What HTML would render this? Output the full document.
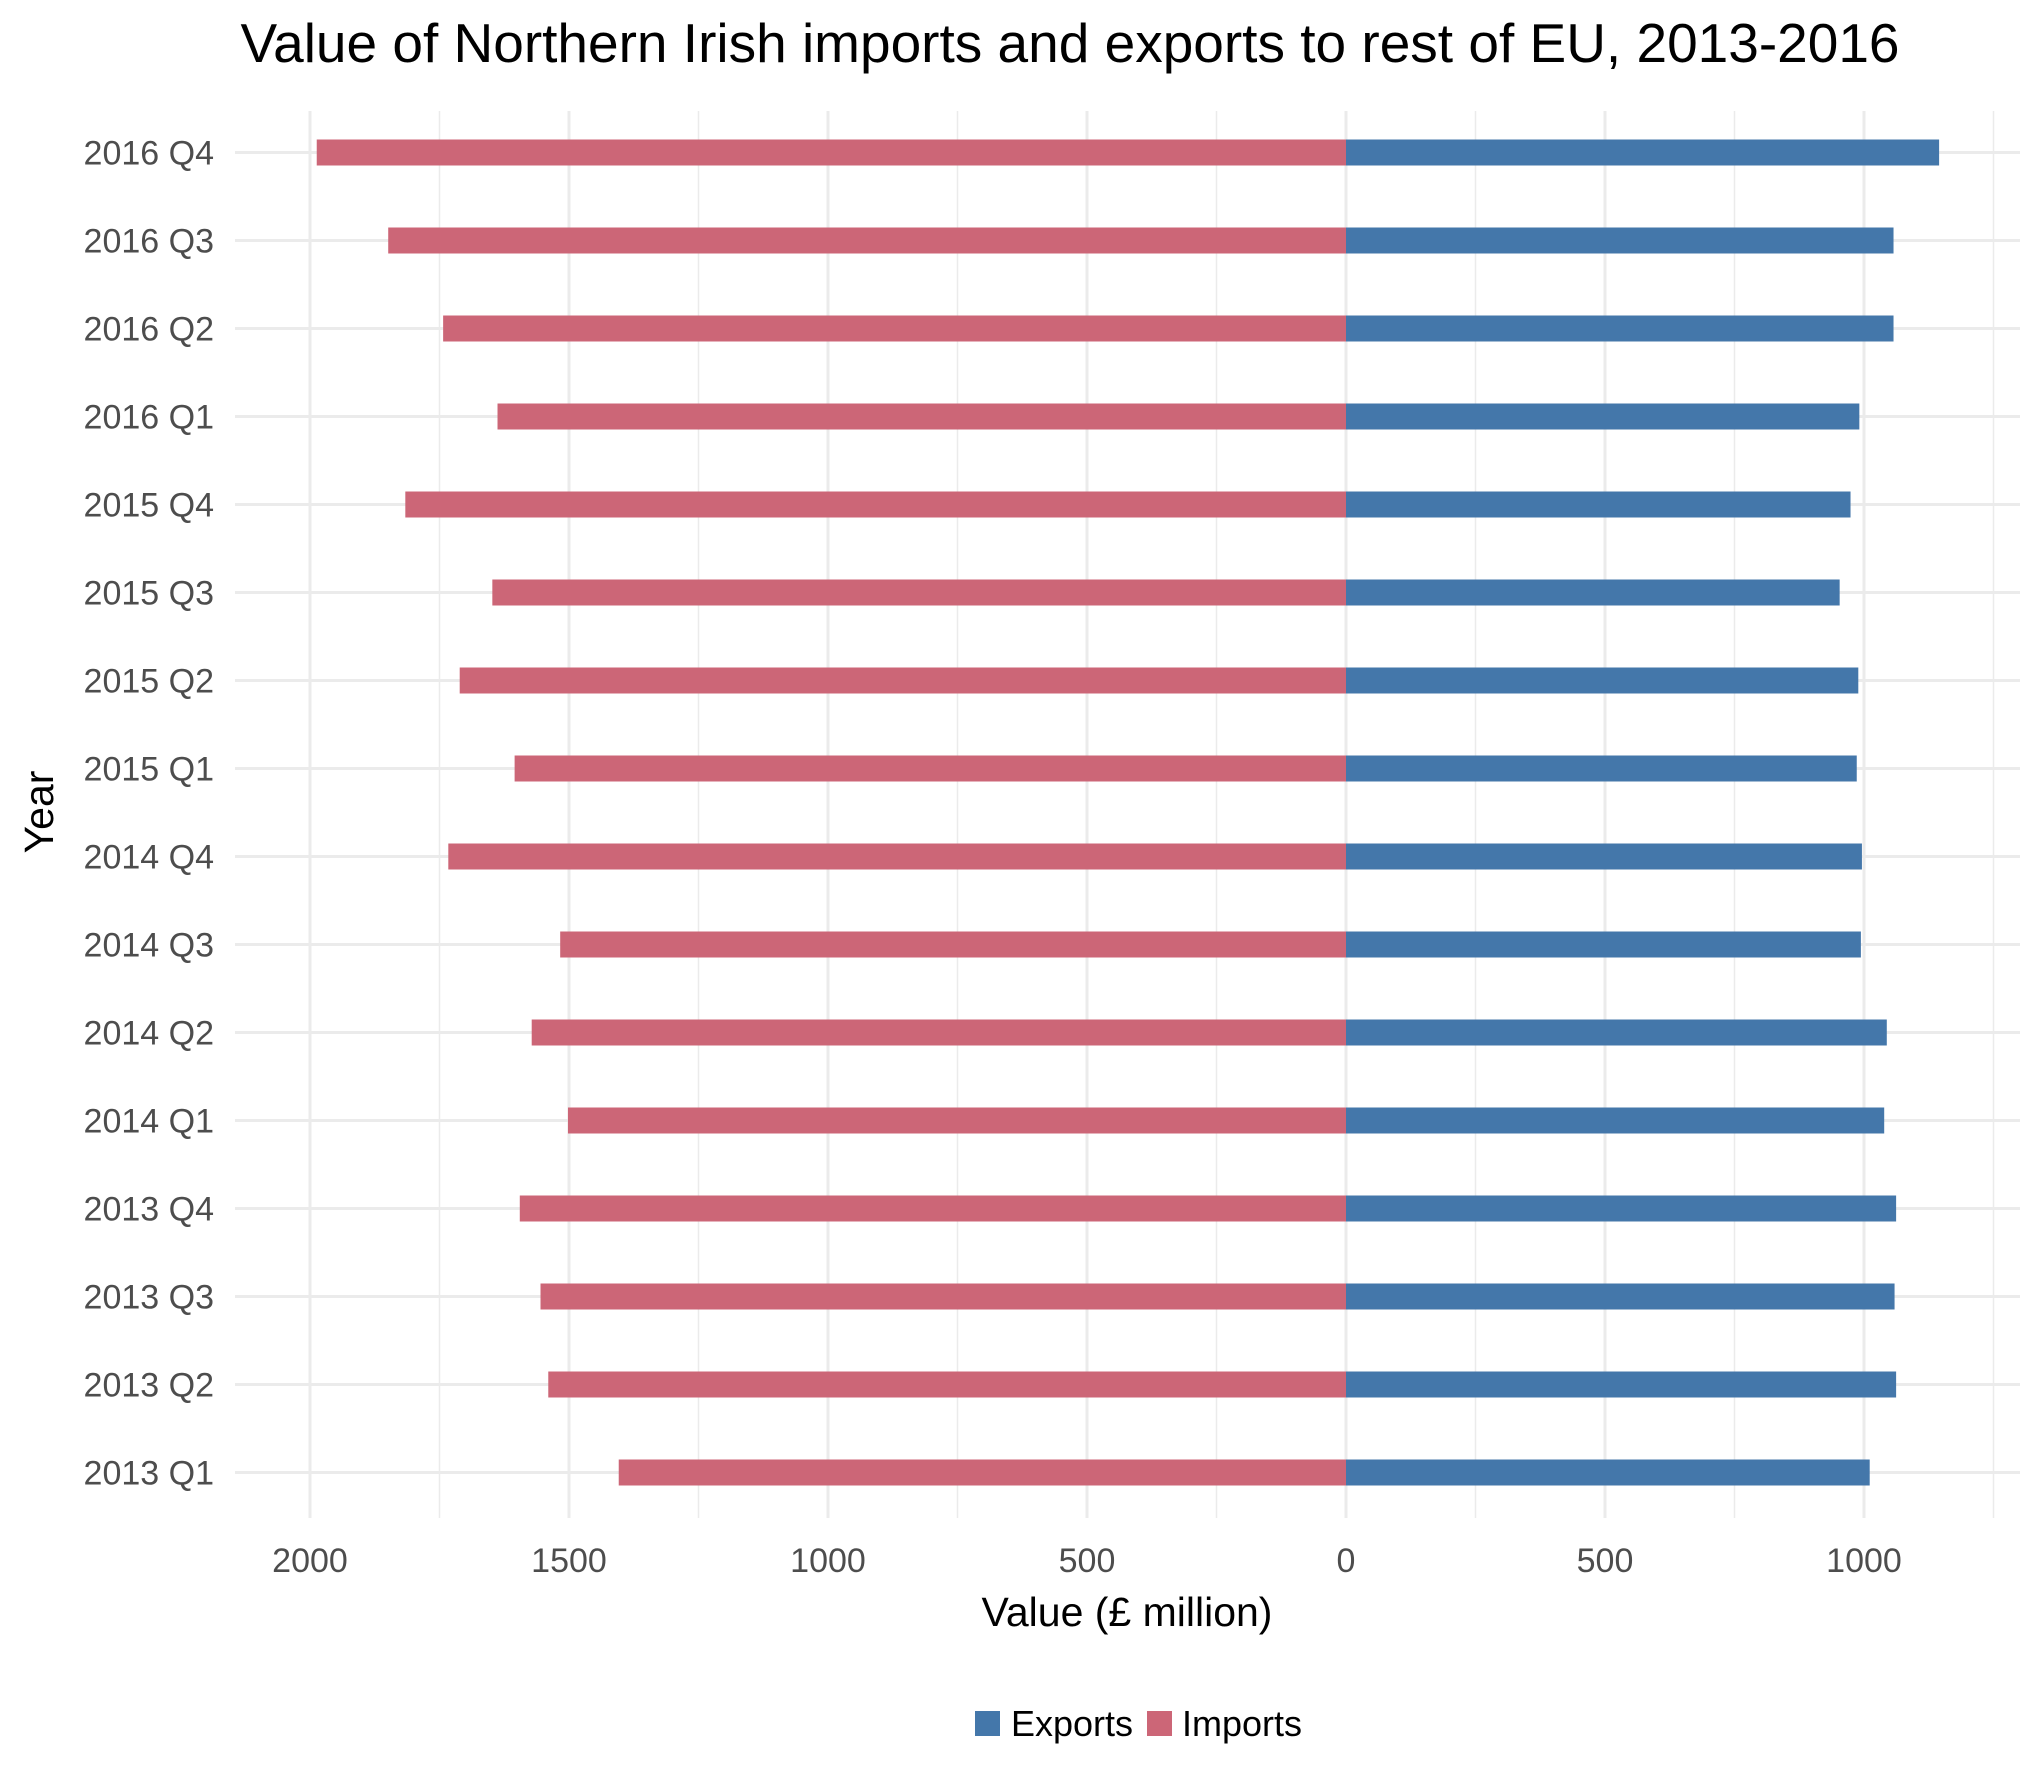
<!DOCTYPE html>
<html><head><meta charset="utf-8"><style>
html,body{margin:0;padding:0;background:#fff;}
svg{display:block;font-family:"Liberation Sans",Arial,sans-serif;}
</style></head><body>
<svg id="chart" width="2043" height="1784" viewBox="0 0 2043 1784">
<text x="1070" y="62" text-anchor="middle" font-size="55" fill="#000">Value of Northern Irish imports and exports to rest of EU, 2013-2016</text>
<g id="grid"></g>
<g id="bars"></g>
<g id="yticks"></g>
<g id="xticks"></g>
<text x="1127" y="1626" text-anchor="middle" font-size="41" fill="#000">Value (£ million)</text>
<text transform="translate(53,812) rotate(-90)" text-anchor="middle" font-size="41" fill="#000">Year</text>
<g>
<rect x="975" y="1711" width="25" height="25" fill="#4477aa"/>
<text x="1011" y="1736" font-size="36" fill="#000">Exports</text>
<rect x="1147" y="1711" width="25" height="25" fill="#cc6677"/>
<text x="1182" y="1736" font-size="36" fill="#000">Imports</text>
</g>
</svg>
<script>
const categories = ["2013 Q1","2013 Q2","2013 Q3","2013 Q4","2014 Q1","2014 Q2","2014 Q3","2014 Q4","2015 Q1","2015 Q2","2015 Q3","2015 Q4","2016 Q1","2016 Q2","2016 Q3","2016 Q4"];
const imports = [1404,1540,1555,1595,1502,1572,1517,1733,1605,1711,1648,1816,1638,1743,1849,1987];
const exports = [1011,1062,1059,1062,1039,1044,994,996,986,989,953,974,991,1057,1057,1145];
const xTickValues = [-2000,-1500,-1000,-500,0,500,1000];
const xTickLabels = ["2000","1500","1000","500","0","500","1000"];

const NS="http://www.w3.org/2000/svg";
const x0=1346, pxPerUnit=0.518;
function xs(v){return x0+v*pxPerUnit;}
function ys(i){return 1472.5-i*88;}
const pTop=111, pBottom=1518, pLeft=235, pRight=2020;
const gridG=document.getElementById('grid'), barsG=document.getElementById('bars');
const ytG=document.getElementById('yticks'), xtG=document.getElementById('xticks');
function mk(tag,attrs,parent){const e=document.createElementNS(NS,tag);for(const k in attrs)e.setAttribute(k,attrs[k]);parent.appendChild(e);return e;}
for(let v=-2250; v<=1250; v+=250){
  const x=xs(v); if(x<pLeft||x>pRight) continue;
  const major = v%500===0;
  const l=mk('line',{x1:x,x2:x,y1:pTop,y2:pBottom,stroke:'#ebebeb','stroke-width':major?3:1.5},gridG);
  
  
}
categories.forEach((c,i)=>{
  const y=ys(i);
  const l=mk('line',{x1:pLeft,x2:pRight,y1:y,y2:y,stroke:'#ebebeb','stroke-width':3},gridG);
  
  
  const t=mk('text',{x:214,y:y+12,'text-anchor':'end','font-size':34,fill:'#4d4d4d'},ytG);
  t.textContent=c;
  
  
  const bh=26;
  const ri=mk('rect',{x:xs(-imports[i]),y:y-bh/2,width:xs(0)-xs(-imports[i]),height:bh,fill:'#cc6677'},barsG);
  
  
  const re=mk('rect',{x:xs(0),y:y-bh/2,width:xs(exports[i])-xs(0),height:bh,fill:'#4477aa'},barsG);
  
  
});
xTickValues.forEach((v,i)=>{
  const t=mk('text',{x:xs(v),y:1572,'text-anchor':'middle','font-size':34,fill:'#4d4d4d'},xtG);
  t.textContent=xTickLabels[i];
  
  
});
</script>
</body></html>
